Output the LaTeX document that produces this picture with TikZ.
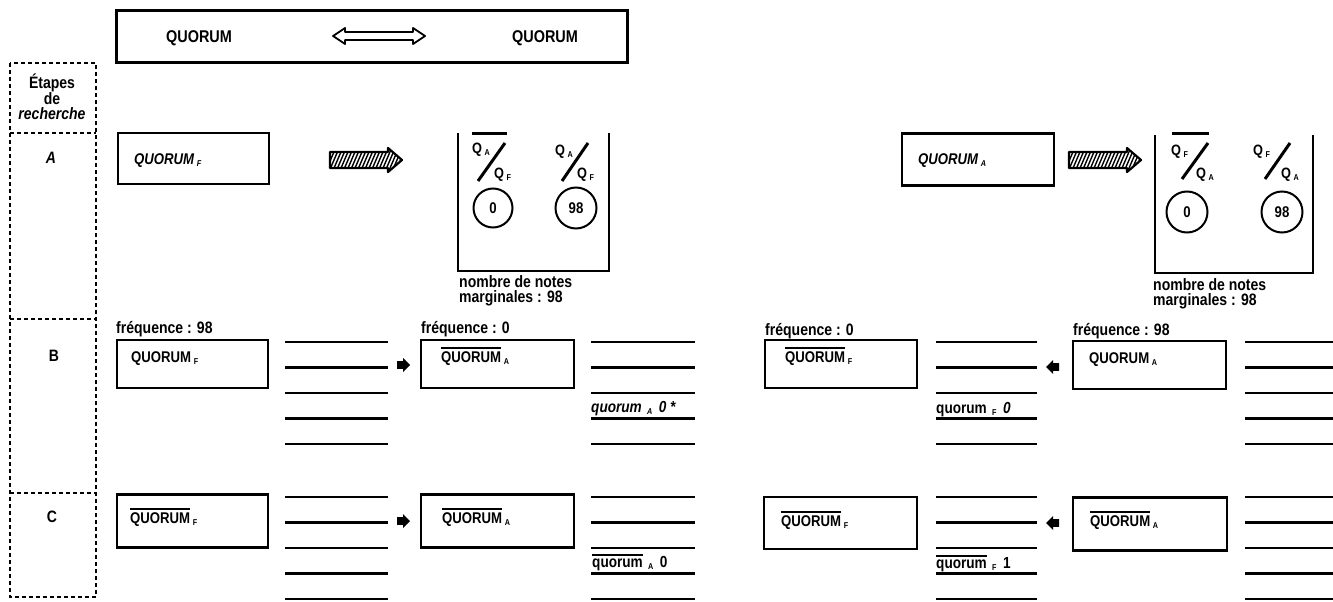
\documentclass[tikz,border=0pt]{standalone}
\usepackage{fontspec}
\setmainfont{Liberation Sans}[FakeStretch=0.85]
\usetikzlibrary{calc}
\newcommand\sbs[1]{\,\raisebox{-2pt}{\fontsize{8.5}{8.5}\selectfont #1}}
\newcommand\ovl[1]{\setbox0\hbox{#1}\rlap{\rule[\dimexpr\ht0+2.5pt\relax]{\wd0}{2pt}}\box0}
\tikzset{
  qbox/.style={draw, line width=2.5pt, rectangle, inner sep=0pt},
  txt/.style={font=\bfseries\fontsize{15.5}{15.5}\selectfont, inner sep=0pt, anchor=base west},
  freq/.style={font=\bfseries\fontsize{16.5}{16.5}\selectfont, inner sep=0pt, anchor=base west},
  bigtxt/.style={font=\bfseries\fontsize{17}{17}\selectfont, inner sep=0pt, anchor=base},
  small/.style={font=\bfseries\fontsize{16}{16}\selectfont, inner sep=0pt, anchor=base west},
  qf/.style={font=\bfseries\fontsize{15}{15}\selectfont, inner sep=0pt, anchor=base west},
  ruleline/.style={line width=2.6pt},
  slash/.style={line width=3pt},
  dashcol/.style={line width=1.3pt, dash pattern=on 4pt off 3pt},
  circ/.style={circle, draw, line width=2pt, minimum size=39pt, inner sep=0pt, font=\bfseries\fontsize{15.5}{15.5}\selectfont},
  pics/hatcharrow/.style={code={
    \begin{scope}
      \clip (-36,-8) -- (22,-8) -- (22,-12) -- (36,0) -- (22,12) -- (22,8) -- (-36,8) -- cycle;
      \foreach \k in {-52,-48.5,...,40} \draw[line width=1.4pt] (\k,14) -- (\k+12,-14);
    \end{scope}
    \draw[line width=2.2pt, line join=round]
      (-36,-8) -- (22,-8) -- (22,-12) -- (36,0) -- (22,12) -- (22,8) -- (-36,8) -- cycle;}},
  pics/blackarrow/.style={code={
    \fill[line join=round] (-6.5,-3.8) -- (-0.5,-3.8) -- (-0.5,-7) -- (6.5,0) -- (-0.5,7) -- (-0.5,3.8) -- (-6.5,3.8) -- cycle;}},
}
\begin{document}
\begin{tikzpicture}[x=1pt,y=-1pt]
\useasboundingbox[fill=white] (0,0) rectangle (1333,602);

% ---------- top box
\node[qbox, line width=3pt, minimum width=511pt, minimum height=52pt] (top) at (371.5,37) {};
\node[bigtxt] (topl) at (199,43) {QUORUM};
\node[bigtxt] (topr) at (545,43) {QUORUM};
\draw[line width=1.8pt, line join=round] (333,36) -- (345,28) -- (345,32) -- (413,32) -- (413,28) -- (425,36)
  -- (413,44) -- (413,40) -- (345,40) -- (345,44) -- cycle;

% ---------- left column
\draw[dashcol] (10,63) rectangle (96,597);
\foreach \yy in {133,319,493} \draw[dashcol] (10,\yy) -- (96,\yy);
\node[font=\bfseries\fontsize{16.5}{15}\selectfont, align=center, inner sep=0pt] (etapes) at (52,97)
  {Étapes\\de\\\textit{recherche}};
\node[font=\bfseries\fontsize{16.5}{16.5}\selectfont, inner sep=0pt] (la) at (51,158) {\textit{A}};
\node[font=\bfseries\fontsize{16.5}{16.5}\selectfont, inner sep=0pt] (lb) at (54,356) {B};
\node[font=\bfseries\fontsize{16.5}{16.5}\selectfont, inner sep=0pt] (lc) at (52,517) {C};

% ---------- row A, left
\node[qbox, minimum width=151pt, minimum height=51pt] (a1) at (193.5,158.5) {};
\node[txt] (a1t) at (134,164) {\itshape QUORUM\sbs{F}};
\pic at (366,160) {hatcharrow};
\draw[ruleline] (458,133) -- (458,271) -- (609,271) -- (609,133);
\draw[line width=2.4pt] (472,133.5) -- (507,133.5);
\node[qf] (f1a) at (472,153) {Q\sbs{A}};
\draw[slash] (478,181) -- (505,143);
\node[qf] (f1b) at (494,178) {Q\sbs{F}};
\node[qf] (f2a) at (555,155) {Q\sbs{A}};
\draw[slash] (562,181) -- (588,143);
\node[qf] (f2b) at (577,178) {Q\sbs{F}};
\node[circ] (c1) at (493,208) {0};
\node[circ, minimum size=41pt] (c2) at (576,208) {98};
\node[anchor=north west, align=left, inner sep=0pt, font=\bfseries\fontsize{16.5}{15.5}\selectfont] (n1) at (459,275)
  {nombre de notes\\marginales : 98};

% ---------- row A, right
\node[qbox, minimum width=152pt, minimum height=52pt] (a2) at (978,159.5) {};
\node[txt] (a2t) at (918,164) {\itshape QUORUM\sbs{A}};
\pic at (1105,160) {hatcharrow};
\draw[ruleline] (1155,135) -- (1155,273) -- (1313,273) -- (1313,135);
\draw[line width=2.4pt] (1172,133.5) -- (1209,133.5);
\node[qf] (g1a) at (1171,155) {Q\sbs{F}};
\draw[slash] (1182,179) -- (1208,143);
\node[qf] (g1b) at (1196,178) {Q\sbs{A}};
\node[qf] (g2a) at (1253,155) {Q\sbs{F}};
\draw[slash] (1265,179) -- (1290,143);
\node[qf] (g2b) at (1281,178) {Q\sbs{A}};
\node[circ, minimum size=41pt] (d1) at (1187,212) {0};
\node[circ, minimum size=41pt] (d2) at (1282,212) {98};
\node[anchor=north west, align=left, inner sep=0pt, font=\bfseries\fontsize{16.5}{15.5}\selectfont] (n2) at (1153,278)
  {nombre de notes\\marginales : 98};

% ---------- row B
\node[freq] (fq1) at (116,333) {fréquence : 98};
\node[freq] (fq2) at (421,333) {fréquence : 0};
\node[freq] (fq3) at (765,335) {fréquence : 0};
\node[freq] (fq4) at (1073,335) {fréquence : 98};
\node[qbox, minimum width=151pt, minimum height=48pt] (b1) at (192.5,364) {};
\node[qbox, minimum width=153pt, minimum height=48pt] (b2) at (497.5,364) {};
\node[qbox, minimum width=152pt, minimum height=48pt] (b3) at (841,364) {};
\node[qbox, minimum width=153pt, minimum height=48pt] (b4) at (1149.5,365) {};
\node[txt] (b1t) at (131,362) {QUORUM\sbs{F}};
\node[txt] (b2t) at (441,362) {\ovl{QUORUM}\sbs{A}};
\node[txt] (b3t) at (785,362) {\ovl{QUORUM}\sbs{F}};
\node[txt] (b4t) at (1089,363) {QUORUM\sbs{A}};
\foreach \yy in {342,367.5,393,418.5,444} {
  \draw[ruleline] (285,\yy) -- (388,\yy);
  \draw[ruleline] (591,\yy) -- (695,\yy);
  \draw[ruleline] (936,\yy) -- (1037,\yy);
  \draw[ruleline] (1245,\yy) -- (1333,\yy);
}
\pic at (403.5,365) {blackarrow};
\pic[xscale=-1] at (1052.5,367) {blackarrow};
\node[small] (qb1) at (591,412) {\itshape quorum\,\sbs{A}\, 0 *};
\node[small] (qb2) at (936,413) {quorum\,\sbs{F}\, \textit{0}};

% ---------- row C
\node[qbox, minimum width=151pt, minimum height=53pt] (c1b) at (192.5,521) {};
\node[qbox, minimum width=153pt, minimum height=53pt] (c2b) at (497.5,521) {};
\node[qbox, minimum width=153pt, minimum height=52pt] (c3b) at (840.5,523) {};
\node[qbox, minimum width=154pt, minimum height=53pt] (c4b) at (1150,524) {};
\node[txt] (c1t) at (130,523) {\ovl{QUORUM}\sbs{F}};
\node[txt] (c2t) at (442,523) {\ovl{QUORUM}\sbs{A}};
\node[txt] (c3t) at (781,526) {\ovl{QUORUM}\sbs{F}};
\node[txt] (c4t) at (1090,526) {\ovl{QUORUM}\sbs{A}};
\foreach \yy in {497,522.5,548,573.5,599} {
  \draw[ruleline] (285,\yy) -- (388,\yy);
  \draw[ruleline] (591,\yy) -- (695,\yy);
  \draw[ruleline] (936,\yy) -- (1037,\yy);
  \draw[ruleline] (1245,\yy) -- (1333,\yy);
}
\pic at (403.5,521) {blackarrow};
\pic[xscale=-1] at (1052.5,523) {blackarrow};
\node[small] (qc1) at (592,567) {\ovl{quorum}\,\sbs{A}\, 0};
\node[small] (qc2) at (936,568) {\ovl{quorum}\,\sbs{F}\, 1};
\end{tikzpicture}
\end{document}
